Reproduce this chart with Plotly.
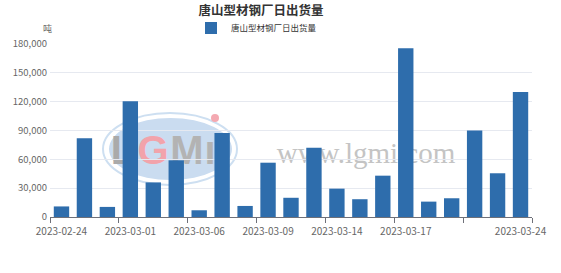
import plotly.graph_objects as go

dates = ["2023-02-24", "2023-02-27", "2023-02-28", "2023-03-01", "2023-03-02", "2023-03-03",
         "2023-03-06", "2023-03-07", "2023-03-08", "2023-03-09", "2023-03-10", "2023-03-13",
         "2023-03-14", "2023-03-15", "2023-03-16", "2023-03-17", "2023-03-20", "2023-03-21",
         "2023-03-22", "2023-03-23", "2023-03-24"]
volumes = [11000, 82000, 10500, 120500, 36000, 59000, 7000, 87500, 11500, 56500, 20000, 72000,
           29500, 18500, 43000, 175500, 16000, 19500, 90000, 45500, 130000]
label_idx = [0, 3, 6, 9, 12, 15, 20]
y_ticks = [0, 30000, 60000, 90000, 120000, 150000, 180000]
series_name = "唐山型材钢厂日出货量"
title_text = "唐山型材钢厂日出货量"
unit_text = "吨"
wm_site = "www.lgmi.com"
wm_letters = [("L", "#aaaaaa", 123), ("G", "#f2a3ab", 153), ("M", "#b3b3b3", 187), ("ı", "#b3b3b3", 210)]

FONT = "Noto Sans CJK SC, Noto Sans, sans-serif"
W, H = 561, 273
L, R, T, B = 50, 29, 44, 56
PW, PH = W - L - R, H - T - B

def px_x(x):
    return (x - L) / PW

def px_y(y):
    return (H - B - y) / PH

xs = list(range(len(dates)))

fig = go.Figure()
fig.add_trace(go.Bar(
    x=xs, y=volumes, name=series_name,
    marker=dict(color="#2e6dac", line=dict(width=0)),
))

shapes = [
    dict(type="circle", xref="paper", yref="paper", layer="below",
         x0=px_x(103), x1=px_x(237), y0=px_y(185), y1=px_y(113),
         fillcolor="rgba(0,0,0,0)", line=dict(width=2, color="#cddff1")),
    dict(type="circle", xref="paper", yref="paper", layer="below",
         x0=px_x(109), x1=px_x(232), y0=px_y(180), y1=px_y(118),
         fillcolor="#cadcf0", line=dict(width=0)),
    dict(type="circle", xref="paper", yref="paper", layer="below",
         x0=px_x(211), x1=px_x(219), y0=px_y(122), y1=px_y(114),
         fillcolor="#f4a9b1", line=dict(width=0)),
]
for ch, col, cx in wm_letters:
    shapes.append(dict(type="rect", xref="paper", yref="paper", layer="below",
                       x0=px_x(cx - 15), x1=px_x(cx + 15), y0=px_y(166), y1=px_y(126),
                       fillcolor="rgba(0,0,0,0)", line=dict(width=0),
                       label=dict(text="<b>" + ch + "</b>", textposition="middle center",
                                  font=dict(family="Liberation Sans, Arial, sans-serif", size=40, color=col))))
shapes.append(dict(type="rect", xref="paper", yref="paper", layer="below",
                   x0=px_x(270), x1=px_x(462), y0=px_y(170), y1=px_y(130),
                   fillcolor="rgba(0,0,0,0)", line=dict(width=0),
                   label=dict(text=wm_site, textposition="middle center",
                              font=dict(family="Liberation Serif, Times New Roman, serif", size=29, color="#c4c4c4"))))

fig.update_layout(
    width=W, height=H,
    margin=dict(l=L, r=R, t=T, b=B),
    paper_bgcolor="white", plot_bgcolor="white",
    font=dict(family=FONT, size=10, color="#666666"),
    title=dict(text="<b>" + title_text + "</b>", xref="container", yref="container",
               x=261 / W, xanchor="center", y=1 - 11 / H, yanchor="middle",
               font=dict(family=FONT, size=12.5, color="#333333")),
    showlegend=True,
    legend=dict(orientation="h", xref="paper", yref="paper",
                x=px_x(191), xanchor="left", y=px_y(28), yanchor="middle",
                font=dict(family=FONT, size=8.5, color="#333333"),
                bgcolor="rgba(0,0,0,0)", itemwidth=30),
    bargap=0.33,
    shapes=shapes,
    annotations=[dict(text=unit_text, xref="paper", yref="paper", x=px_x(47), y=px_y(28),
                      xanchor="center", yanchor="middle", showarrow=False,
                      font=dict(family=FONT, size=9, color="#666666"))],
    xaxis=dict(range=[-0.5, len(dates) - 0.5], tickmode="array",
               tickvals=[xs[i] for i in label_idx], ticktext=[dates[i] for i in label_idx],
               ticks="", showgrid=False, zeroline=False,
               showline=True, linecolor="#6e7079", linewidth=1, ticklabelstandoff=5,
               tickfont=dict(family=FONT, size=10, color="#666666"),
               minor=dict(tickmode="array",
                          tickvals=[i - 0.5 for i in range(0, len(dates), 3)] + [len(dates) - 0.5],
                          ticks="outside", ticklen=5, tickcolor="#6e7079", tickwidth=1, showgrid=False)),
    yaxis=dict(range=[0, 180000], tickmode="array", tickvals=y_ticks,
               ticktext=[f"{v:,}" for v in y_ticks],
               showgrid=True, gridcolor="#e6e9f0", gridwidth=1, zeroline=False,
               showline=False, ticks="", ticklabelstandoff=2,
               tickfont=dict(family=FONT, size=9.5, color="#666666")),
)

fig.write_html("out.html")
